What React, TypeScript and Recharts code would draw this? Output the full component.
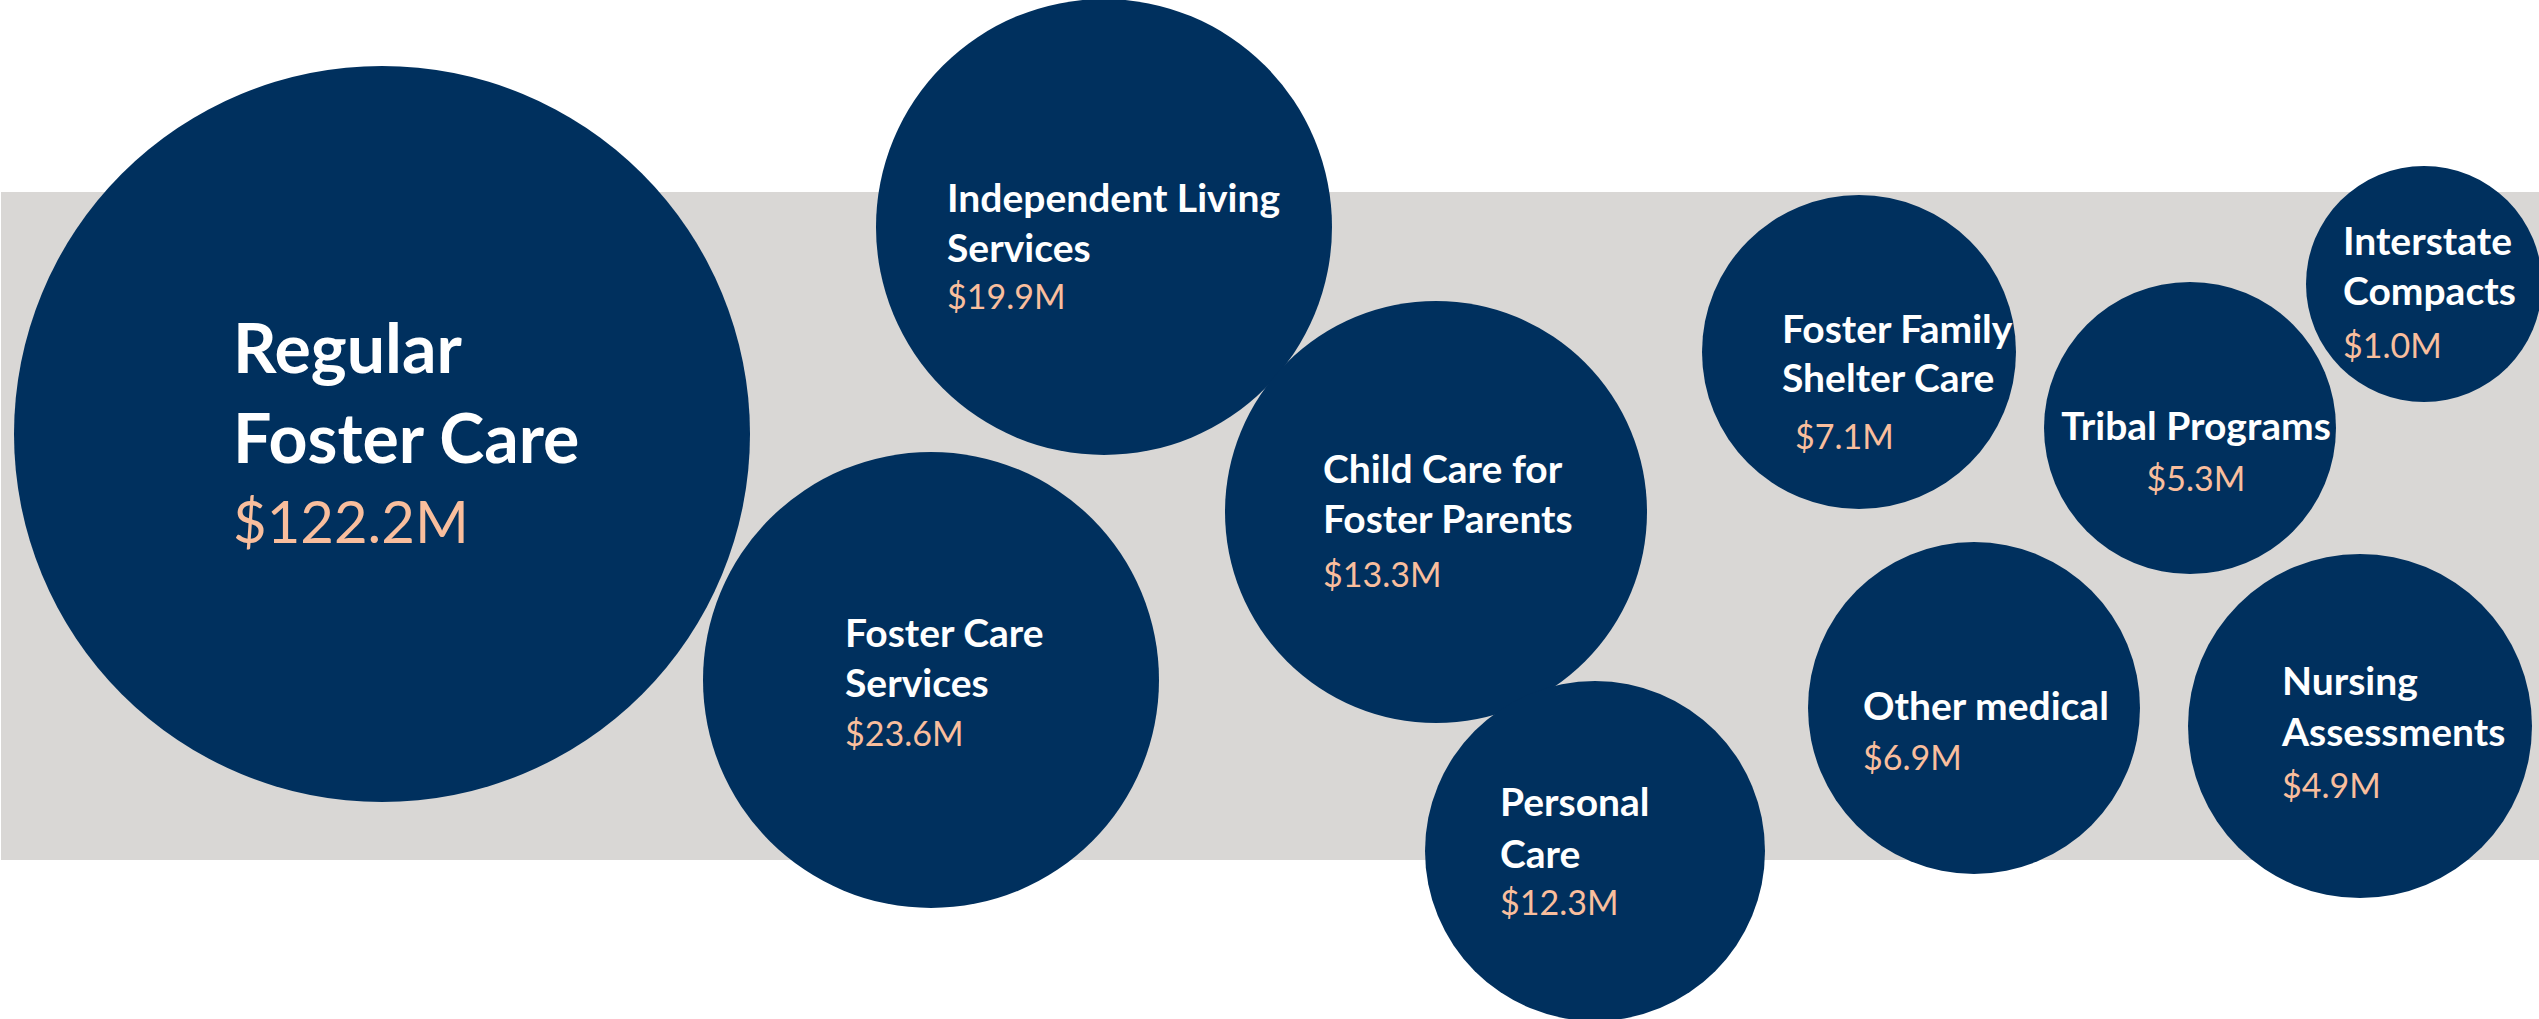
import React from 'react';
import { ScatterChart, Scatter, XAxis, YAxis, ZAxis, ReferenceArea } from 'recharts';

// ---- data ----
const categories: string[][] = [
  ['Regular', 'Foster Care'],
  ['Independent Living', 'Services'],
  ['Foster Care', 'Services'],
  ['Child Care for', 'Foster Parents'],
  ['Personal', 'Care'],
  ['Foster Family', 'Shelter Care'],
  ['Interstate', 'Compacts'],
  ['Tribal Programs'],
  ['Other medical'],
  ['Nursing', 'Assessments'],
];
const amounts: number[] = [122.2, 19.9, 23.6, 13.3, 12.3, 7.1, 1.0, 5.3, 6.9, 4.9];
const bubbleX: number[] = [382, 1104, 931, 1436, 1595, 1859, 2424, 2190, 1974, 2360];
const bubbleY: number[] = [434, 227, 680, 512, 851, 352, 284, 428, 708, 726];
const bubbleRadius: number[] = [368, 228, 228, 211, 170, 157, 118, 146, 166, 172];

// ---- layout (label placement relative to bubble centre) ----
type Lay = { dx: number; dy: number; lh: number; vdx: number; vdy: number; anchor: 'start' | 'middle'; ns: number; vs: number };
const labelLayout: Lay[] = [
  { dx: -149, dy: -61, lh: 90, vdx: -149, vdy: 109, anchor: 'start', ns: 68, vs: 58 },
  { dx: -157, dy: -15, lh: 50, vdx: -157, vdy: 82, anchor: 'start', ns: 39, vs: 34 },
  { dx: -86, dy: -33, lh: 50, vdx: -86, vdy: 66, anchor: 'start', ns: 39, vs: 34 },
  { dx: -113, dy: -29, lh: 50, vdx: -113, vdy: 75, anchor: 'start', ns: 39, vs: 34 },
  { dx: -95, dy: -35, lh: 52, vdx: -95, vdy: 64, anchor: 'start', ns: 39, vs: 34 },
  { dx: -77, dy: -9, lh: 49, vdx: -64, vdy: 97, anchor: 'start', ns: 39, vs: 34 },
  { dx: -81, dy: -29, lh: 50, vdx: -81, vdy: 74, anchor: 'start', ns: 39, vs: 34 },
  { dx: 6, dy: 12, lh: 50, vdx: 6, vdy: 63, anchor: 'middle', ns: 39, vs: 34 },
  { dx: -111, dy: 12, lh: 50, vdx: -111, vdy: 62, anchor: 'start', ns: 39, vs: 34 },
  { dx: -78, dy: -31, lh: 51, vdx: -78, vdy: 72, anchor: 'start', ns: 39, vs: 34 },
];

const W = 2539;
const H = 1019;
const NAVY = '#00305E';
const PEACH = '#F9BE9D';
const BAND = '#D9D7D5';
const FONT = 'Lato, "Open Sans", sans-serif';
const ZMAX = 200000;

const table = categories.map((lines, i) => ({
  lines,
  amount: amounts[i],
  x: bubbleX[i],
  y: bubbleY[i],
  z: bubbleRadius[i] * bubbleRadius[i],
  idx: i,
}));

const Bubble = (props: any) => {
  const { cx, cy, width, payload } = props;
  const r = width / 2;
  const lay = labelLayout[payload.idx];
  return (
    <g>
      <circle cx={cx} cy={cy} r={r} fill={NAVY} />
      {payload.lines.map((t: string, k: number) => (
        <text
          key={k}
          x={cx + lay.dx}
          y={cy + lay.dy + k * lay.lh}
          textAnchor={lay.anchor}
          fill="#FFFFFF"
          fontFamily={FONT}
          fontWeight={700}
          fontSize={lay.ns}
        >
          {t}
        </text>
      ))}
      <text
        x={cx + lay.vdx}
        y={cy + lay.vdy}
        textAnchor={lay.anchor}
        fill={PEACH}
        fontFamily={FONT}
        fontWeight={400}
        fontSize={lay.vs}
      >
        {`$${payload.amount.toFixed(1)}M`}
      </text>
    </g>
  );
};

export default function App() {
  return (
    <div style={{ position: 'absolute', left: 0, top: 0, width: W, height: H, background: '#FFFFFF' }}>
      <ScatterChart width={W} height={H} margin={{ top: 0, right: 0, bottom: 0, left: 0 }}>
        <XAxis type="number" dataKey="x" domain={[0, W]} hide allowDataOverflow />
        <YAxis type="number" dataKey="y" domain={[0, H]} reversed hide allowDataOverflow />
        <ZAxis type="number" dataKey="z" domain={[0, ZMAX]} range={[0, ZMAX * Math.PI]} />
        <ReferenceArea x1={1} x2={W} y1={192} y2={860} fill={BAND} fillOpacity={1} stroke="none" ifOverflow="extendDomain" />
        <Scatter data={table} shape={Bubble} isAnimationActive={false} />
      </ScatterChart>
    </div>
  );
}
